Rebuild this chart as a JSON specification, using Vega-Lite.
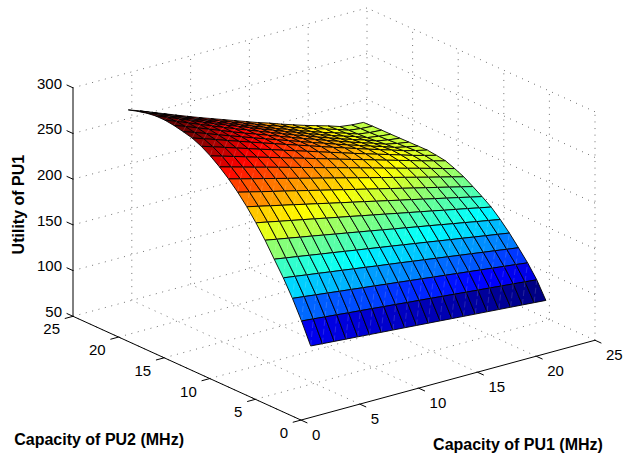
{"$schema":"https://vega.github.io/schema/vega-lite/v6.json","width":625,"height":453,"padding":0,"autosize":{"type":"fit","contains":"padding"},"background":"white","view":{"stroke":null},
"datasets":{
"segs":[
{"kind":"grid","a1":0,"a2":0,"az":50,"b1":0,"b2":25,"bz":50},{"kind":"grid","a1":5,"a2":0,"az":50,"b1":5,"b2":25,"bz":50},{"kind":"grid","a1":10,"a2":0,"az":50,"b1":10,"b2":25,"bz":50},{"kind":"grid","a1":15,"a2":0,"az":50,"b1":15,"b2":25,"bz":50},{"kind":"grid","a1":20,"a2":0,"az":50,"b1":20,"b2":25,"bz":50},{"kind":"grid","a1":25,"a2":0,"az":50,"b1":25,"b2":25,"bz":50},
{"kind":"grid","a1":0,"a2":5,"az":50,"b1":25,"b2":5,"bz":50},{"kind":"grid","a1":0,"a2":10,"az":50,"b1":25,"b2":10,"bz":50},{"kind":"grid","a1":0,"a2":15,"az":50,"b1":25,"b2":15,"bz":50},{"kind":"grid","a1":0,"a2":20,"az":50,"b1":25,"b2":20,"bz":50},{"kind":"grid","a1":0,"a2":25,"az":50,"b1":25,"b2":25,"bz":50},
{"kind":"grid","a1":5,"a2":25,"az":50,"b1":5,"b2":25,"bz":300},{"kind":"grid","a1":10,"a2":25,"az":50,"b1":10,"b2":25,"bz":300},{"kind":"grid","a1":15,"a2":25,"az":50,"b1":15,"b2":25,"bz":300},{"kind":"grid","a1":20,"a2":25,"az":50,"b1":20,"b2":25,"bz":300},{"kind":"grid","a1":25,"a2":25,"az":50,"b1":25,"b2":25,"bz":300},
{"kind":"grid","a1":25,"a2":0,"az":50,"b1":25,"b2":0,"bz":300},{"kind":"grid","a1":25,"a2":5,"az":50,"b1":25,"b2":5,"bz":300},{"kind":"grid","a1":25,"a2":10,"az":50,"b1":25,"b2":10,"bz":300},{"kind":"grid","a1":25,"a2":15,"az":50,"b1":25,"b2":15,"bz":300},{"kind":"grid","a1":25,"a2":20,"az":50,"b1":25,"b2":20,"bz":300},
{"kind":"grid","a1":0,"a2":25,"az":100,"b1":25,"b2":25,"bz":100},{"kind":"grid","a1":0,"a2":25,"az":150,"b1":25,"b2":25,"bz":150},{"kind":"grid","a1":0,"a2":25,"az":200,"b1":25,"b2":25,"bz":200},{"kind":"grid","a1":0,"a2":25,"az":250,"b1":25,"b2":25,"bz":250},{"kind":"grid","a1":0,"a2":25,"az":300,"b1":25,"b2":25,"bz":300},
{"kind":"grid","a1":25,"a2":0,"az":100,"b1":25,"b2":25,"bz":100},{"kind":"grid","a1":25,"a2":0,"az":150,"b1":25,"b2":25,"bz":150},{"kind":"grid","a1":25,"a2":0,"az":200,"b1":25,"b2":25,"bz":200},{"kind":"grid","a1":25,"a2":0,"az":250,"b1":25,"b2":25,"bz":250},{"kind":"grid","a1":25,"a2":0,"az":300,"b1":25,"b2":25,"bz":300},
{"kind":"axis","a1":0,"a2":0,"az":50,"b1":25,"b2":0,"bz":50},{"kind":"axis","a1":0,"a2":0,"az":50,"b1":0,"b2":25,"bz":50},{"kind":"axis","a1":0,"a2":25,"az":50,"b1":0,"b2":25,"bz":300},
{"kind":"axis","a1":0,"a2":0,"az":50,"b1":0,"b2":-0.7,"bz":50},{"kind":"axis","a1":5,"a2":0,"az":50,"b1":5,"b2":-0.7,"bz":50},{"kind":"axis","a1":10,"a2":0,"az":50,"b1":10,"b2":-0.7,"bz":50},{"kind":"axis","a1":15,"a2":0,"az":50,"b1":15,"b2":-0.7,"bz":50},{"kind":"axis","a1":20,"a2":0,"az":50,"b1":20,"b2":-0.7,"bz":50},{"kind":"axis","a1":25,"a2":0,"az":50,"b1":25,"b2":-0.7,"bz":50},
{"kind":"axis","a1":0,"a2":0,"az":50,"b1":-0.7,"b2":0,"bz":50},{"kind":"axis","a1":0,"a2":5,"az":50,"b1":-0.7,"b2":5,"bz":50},{"kind":"axis","a1":0,"a2":10,"az":50,"b1":-0.7,"b2":10,"bz":50},{"kind":"axis","a1":0,"a2":15,"az":50,"b1":-0.7,"b2":15,"bz":50},{"kind":"axis","a1":0,"a2":20,"az":50,"b1":-0.7,"b2":20,"bz":50},{"kind":"axis","a1":0,"a2":25,"az":50,"b1":-0.7,"b2":25,"bz":50},
{"kind":"axis","a1":0,"a2":25,"az":50,"b1":0,"b2":25.7,"bz":50},{"kind":"axis","a1":0,"a2":25,"az":100,"b1":0,"b2":25.7,"bz":100},{"kind":"axis","a1":0,"a2":25,"az":150,"b1":0,"b2":25.7,"bz":150},{"kind":"axis","a1":0,"a2":25,"az":200,"b1":0,"b2":25.7,"bz":200},{"kind":"axis","a1":0,"a2":25,"az":250,"b1":0,"b2":25.7,"bz":250},{"kind":"axis","a1":0,"a2":25,"az":300,"b1":0,"b2":25.7,"bz":300}
],
"labels":[
{"g":"p1","t":"0","p1":0,"p2":0,"z":50},{"g":"p1","t":"5","p1":5,"p2":0,"z":50},{"g":"p1","t":"10","p1":10,"p2":0,"z":50},{"g":"p1","t":"15","p1":15,"p2":0,"z":50},{"g":"p1","t":"20","p1":20,"p2":0,"z":50},{"g":"p1","t":"25","p1":25,"p2":0,"z":50},
{"g":"p2","t":"0","p1":0,"p2":0,"z":50},{"g":"p2","t":"5","p1":0,"p2":5,"z":50},{"g":"p2","t":"10","p1":0,"p2":10,"z":50},{"g":"p2","t":"15","p1":0,"p2":15,"z":50},{"g":"p2","t":"20","p1":0,"p2":20,"z":50},{"g":"p2","t":"25","p1":0,"p2":25,"z":50},
{"g":"z","t":"50","p1":0,"p2":25,"z":50},{"g":"z","t":"100","p1":0,"p2":25,"z":100},{"g":"z","t":"150","p1":0,"p2":25,"z":150},{"g":"z","t":"200","p1":0,"p2":25,"z":200},{"g":"z","t":"250","p1":0,"p2":25,"z":250},{"g":"z","t":"300","p1":0,"p2":25,"z":300},
{"g":"title","t":"Capacity of PU2 (MHz)","p1":-13.09,"p2":5.26,"z":50},{"g":"title","t":"Capacity of PU1 (MHz)","p1":8.64,"p2":-12.65,"z":50},
{"g":"ztitle","t":"Utility of PU1","p1":0,"p2":30.9,"z":145.4}
],
"grid":[
{"pu1":2,"pu2":22,"u":282.5},{"pu1":3,"pu2":22,"u":277.9},{"pu1":4,"pu2":22,"u":272.9},{"pu1":5,"pu2":22,"u":267.9},{"pu1":6,"pu2":22,"u":262.9},{"pu1":7,"pu2":22,"u":258},{"pu1":8,"pu2":22,"u":253.2},{"pu1":9,"pu2":22,"u":248.6},{"pu1":10,"pu2":22,"u":244},{"pu1":11,"pu2":22,"u":239.4},{"pu1":12,"pu2":22,"u":234.8},{"pu1":13,"pu2":22,"u":230.2},{"pu1":14,"pu2":22,"u":226.1},{"pu1":15,"pu2":22,"u":221.5},{"pu1":16,"pu2":22,"u":217.3},{"pu1":17,"pu2":22,"u":213.1},{"pu1":18,"pu2":22,"u":209.3},{"pu1":19,"pu2":22,"u":205.6},{"pu1":20,"pu2":22,"u":201.4},{"pu1":21,"pu2":22,"u":199.7},{"pu1":22,"pu2":22,"u":198.9},
{"pu1":2,"pu2":21,"u":285.5},{"pu1":3,"pu2":21,"u":280.8},{"pu1":4,"pu2":21,"u":275.6},{"pu1":5,"pu2":21,"u":270.4},{"pu1":6,"pu2":21,"u":265.2},{"pu1":7,"pu2":21,"u":260.2},{"pu1":8,"pu2":21,"u":255.3},{"pu1":9,"pu2":21,"u":250.6},{"pu1":10,"pu2":21,"u":245.8},{"pu1":11,"pu2":21,"u":241.1},{"pu1":12,"pu2":21,"u":236.4},{"pu1":13,"pu2":21,"u":231.6},{"pu1":14,"pu2":21,"u":227.3},{"pu1":15,"pu2":21,"u":222.6},{"pu1":16,"pu2":21,"u":218.3},{"pu1":17,"pu2":21,"u":214},{"pu1":18,"pu2":21,"u":210.1},{"pu1":19,"pu2":21,"u":206.2},{"pu1":20,"pu2":21,"u":201.9},{"pu1":21,"pu2":21,"u":200.2},{"pu1":22,"pu2":21,"u":199.3},
{"pu1":2,"pu2":20,"u":288},{"pu1":3,"pu2":20,"u":283.1},{"pu1":4,"pu2":20,"u":277.8},{"pu1":5,"pu2":20,"u":272.5},{"pu1":6,"pu2":20,"u":267.2},{"pu1":7,"pu2":20,"u":262.1},{"pu1":8,"pu2":20,"u":257},{"pu1":9,"pu2":20,"u":252.2},{"pu1":10,"pu2":20,"u":247.3},{"pu1":11,"pu2":20,"u":242.4},{"pu1":12,"pu2":20,"u":237.6},{"pu1":13,"pu2":20,"u":232.7},{"pu1":14,"pu2":20,"u":228.3},{"pu1":15,"pu2":20,"u":223.4},{"pu1":16,"pu2":20,"u":219},{"pu1":17,"pu2":20,"u":214.5},{"pu1":18,"pu2":20,"u":210.6},{"pu1":19,"pu2":20,"u":206.6},{"pu1":20,"pu2":20,"u":202.2},{"pu1":21,"pu2":20,"u":200.4},{"pu1":22,"pu2":20,"u":199.5},
{"pu1":2,"pu2":19,"u":289.5},{"pu1":3,"pu2":19,"u":284.6},{"pu1":4,"pu2":19,"u":279.3},{"pu1":5,"pu2":19,"u":274},{"pu1":6,"pu2":19,"u":268.7},{"pu1":7,"pu2":19,"u":263.5},{"pu1":8,"pu2":19,"u":258.5},{"pu1":9,"pu2":19,"u":253.6},{"pu1":10,"pu2":19,"u":248.7},{"pu1":11,"pu2":19,"u":243.7},{"pu1":12,"pu2":19,"u":238.9},{"pu1":13,"pu2":19,"u":234},{"pu1":14,"pu2":19,"u":229.5},{"pu1":15,"pu2":19,"u":224.6},{"pu1":16,"pu2":19,"u":220.1},{"pu1":17,"pu2":19,"u":215.6},{"pu1":18,"pu2":19,"u":211.5},{"pu1":19,"pu2":19,"u":207.4},{"pu1":20,"pu2":19,"u":202.9},{"pu1":21,"pu2":19,"u":200.9},{"pu1":22,"pu2":19,"u":199.6},
{"pu1":2,"pu2":18,"u":289.5},{"pu1":3,"pu2":18,"u":284.6},{"pu1":4,"pu2":18,"u":279.4},{"pu1":5,"pu2":18,"u":274.2},{"pu1":6,"pu2":18,"u":269.1},{"pu1":7,"pu2":18,"u":264},{"pu1":8,"pu2":18,"u":259},{"pu1":9,"pu2":18,"u":254.2},{"pu1":10,"pu2":18,"u":249.3},{"pu1":11,"pu2":18,"u":244.4},{"pu1":12,"pu2":18,"u":239.7},{"pu1":13,"pu2":18,"u":234.8},{"pu1":14,"pu2":18,"u":230.3},{"pu1":15,"pu2":18,"u":225.5},{"pu1":16,"pu2":18,"u":221},{"pu1":17,"pu2":18,"u":216.5},{"pu1":18,"pu2":18,"u":212.3},{"pu1":19,"pu2":18,"u":208.3},{"pu1":20,"pu2":18,"u":203.8},{"pu1":21,"pu2":18,"u":201.4},{"pu1":22,"pu2":18,"u":199.8},
{"pu1":2,"pu2":17,"u":288.2},{"pu1":3,"pu2":17,"u":283.5},{"pu1":4,"pu2":17,"u":278.5},{"pu1":5,"pu2":17,"u":273.6},{"pu1":6,"pu2":17,"u":268.6},{"pu1":7,"pu2":17,"u":263.6},{"pu1":8,"pu2":17,"u":258.8},{"pu1":9,"pu2":17,"u":254.2},{"pu1":10,"pu2":17,"u":249.5},{"pu1":11,"pu2":17,"u":244.8},{"pu1":12,"pu2":17,"u":240.1},{"pu1":13,"pu2":17,"u":235.4},{"pu1":14,"pu2":17,"u":231},{"pu1":15,"pu2":17,"u":226.3},{"pu1":16,"pu2":17,"u":221.9},{"pu1":17,"pu2":17,"u":217.5},{"pu1":18,"pu2":17,"u":213.3},{"pu1":19,"pu2":17,"u":209.2},{"pu1":20,"pu2":17,"u":204.8},{"pu1":21,"pu2":17,"u":202.1},{"pu1":22,"pu2":17,"u":200},
{"pu1":2,"pu2":16,"u":286},{"pu1":3,"pu2":16,"u":281.5},{"pu1":4,"pu2":16,"u":276.8},{"pu1":5,"pu2":16,"u":272},{"pu1":6,"pu2":16,"u":267.3},{"pu1":7,"pu2":16,"u":262.8},{"pu1":8,"pu2":16,"u":258.1},{"pu1":9,"pu2":16,"u":253.6},{"pu1":10,"pu2":16,"u":249.1},{"pu1":11,"pu2":16,"u":244.6},{"pu1":12,"pu2":16,"u":240.1},{"pu1":13,"pu2":16,"u":235.6},{"pu1":14,"pu2":16,"u":231.3},{"pu1":15,"pu2":16,"u":226.8},{"pu1":16,"pu2":16,"u":222.5},{"pu1":17,"pu2":16,"u":218.3},{"pu1":18,"pu2":16,"u":214.2},{"pu1":19,"pu2":16,"u":210.1},{"pu1":20,"pu2":16,"u":205.8},{"pu1":21,"pu2":16,"u":202.8},{"pu1":22,"pu2":16,"u":200.2},
{"pu1":2,"pu2":15,"u":283.5},{"pu1":3,"pu2":15,"u":279.2},{"pu1":4,"pu2":15,"u":274.8},{"pu1":5,"pu2":15,"u":270.3},{"pu1":6,"pu2":15,"u":265.9},{"pu1":7,"pu2":15,"u":261.5},{"pu1":8,"pu2":15,"u":257.1},{"pu1":9,"pu2":15,"u":252.8},{"pu1":10,"pu2":15,"u":248.5},{"pu1":11,"pu2":15,"u":244.2},{"pu1":12,"pu2":15,"u":240},{"pu1":13,"pu2":15,"u":235.6},{"pu1":14,"pu2":15,"u":231.4},{"pu1":15,"pu2":15,"u":227.2},{"pu1":16,"pu2":15,"u":223},{"pu1":17,"pu2":15,"u":218.9},{"pu1":18,"pu2":15,"u":214.8},{"pu1":19,"pu2":15,"u":210.9},{"pu1":20,"pu2":15,"u":206.7},{"pu1":21,"pu2":15,"u":203.4},{"pu1":22,"pu2":15,"u":200.4},
{"pu1":2,"pu2":14,"u":279},{"pu1":3,"pu2":14,"u":274.9},{"pu1":4,"pu2":14,"u":270.8},{"pu1":5,"pu2":14,"u":266.6},{"pu1":6,"pu2":14,"u":262.5},{"pu1":7,"pu2":14,"u":258.3},{"pu1":8,"pu2":14,"u":254.3},{"pu1":9,"pu2":14,"u":250.2},{"pu1":10,"pu2":14,"u":246.1},{"pu1":11,"pu2":14,"u":242.1},{"pu1":12,"pu2":14,"u":238},{"pu1":13,"pu2":14,"u":233.9},{"pu1":14,"pu2":14,"u":229.9},{"pu1":15,"pu2":14,"u":225.8},{"pu1":16,"pu2":14,"u":221.8},{"pu1":17,"pu2":14,"u":217.9},{"pu1":18,"pu2":14,"u":214},{"pu1":19,"pu2":14,"u":210.1},{"pu1":20,"pu2":14,"u":206.1},{"pu1":21,"pu2":14,"u":202.6},{"pu1":22,"pu2":14,"u":199.2},
{"pu1":2,"pu2":13,"u":273},{"pu1":3,"pu2":13,"u":269.2},{"pu1":4,"pu2":13,"u":265.4},{"pu1":5,"pu2":13,"u":261.5},{"pu1":6,"pu2":13,"u":257.6},{"pu1":7,"pu2":13,"u":253.9},{"pu1":8,"pu2":13,"u":250},{"pu1":9,"pu2":13,"u":246.2},{"pu1":10,"pu2":13,"u":242.5},{"pu1":11,"pu2":13,"u":238.6},{"pu1":12,"pu2":13,"u":234.9},{"pu1":13,"pu2":13,"u":231},{"pu1":14,"pu2":13,"u":227.2},{"pu1":15,"pu2":13,"u":223.5},{"pu1":16,"pu2":13,"u":219.7},{"pu1":17,"pu2":13,"u":215.9},{"pu1":18,"pu2":13,"u":212.2},{"pu1":19,"pu2":13,"u":208.5},{"pu1":20,"pu2":13,"u":204.7},{"pu1":21,"pu2":13,"u":201.2},{"pu1":22,"pu2":13,"u":197.7},
{"pu1":2,"pu2":12,"u":265.5},{"pu1":3,"pu2":12,"u":261.9},{"pu1":4,"pu2":12,"u":258.3},{"pu1":5,"pu2":12,"u":254.7},{"pu1":6,"pu2":12,"u":251.2},{"pu1":7,"pu2":12,"u":247.6},{"pu1":8,"pu2":12,"u":244},{"pu1":9,"pu2":12,"u":240.4},{"pu1":10,"pu2":12,"u":236.8},{"pu1":11,"pu2":12,"u":233.2},{"pu1":12,"pu2":12,"u":229.7},{"pu1":13,"pu2":12,"u":226.1},{"pu1":14,"pu2":12,"u":222.5},{"pu1":15,"pu2":12,"u":218.9},{"pu1":16,"pu2":12,"u":215.3},{"pu1":17,"pu2":12,"u":211.7},{"pu1":18,"pu2":12,"u":208.1},{"pu1":19,"pu2":12,"u":204.6},{"pu1":20,"pu2":12,"u":201},{"pu1":21,"pu2":12,"u":197.4},{"pu1":22,"pu2":12,"u":193.8},
{"pu1":2,"pu2":11,"u":256.9},{"pu1":3,"pu2":11,"u":253.5},{"pu1":4,"pu2":11,"u":250.1},{"pu1":5,"pu2":11,"u":246.8},{"pu1":6,"pu2":11,"u":243.4},{"pu1":7,"pu2":11,"u":240},{"pu1":8,"pu2":11,"u":236.6},{"pu1":9,"pu2":11,"u":233.2},{"pu1":10,"pu2":11,"u":229.9},{"pu1":11,"pu2":11,"u":226.5},{"pu1":12,"pu2":11,"u":223.1},{"pu1":13,"pu2":11,"u":219.7},{"pu1":14,"pu2":11,"u":216.3},{"pu1":15,"pu2":11,"u":213},{"pu1":16,"pu2":11,"u":209.6},{"pu1":17,"pu2":11,"u":206.2},{"pu1":18,"pu2":11,"u":202.8},{"pu1":19,"pu2":11,"u":199.4},{"pu1":20,"pu2":11,"u":196.1},{"pu1":21,"pu2":11,"u":192.7},{"pu1":22,"pu2":11,"u":189.3},
{"pu1":2,"pu2":10,"u":246.9},{"pu1":3,"pu2":10,"u":243.7},{"pu1":4,"pu2":10,"u":240.5},{"pu1":5,"pu2":10,"u":237.3},{"pu1":6,"pu2":10,"u":234.2},{"pu1":7,"pu2":10,"u":231},{"pu1":8,"pu2":10,"u":227.8},{"pu1":9,"pu2":10,"u":224.6},{"pu1":10,"pu2":10,"u":221.4},{"pu1":11,"pu2":10,"u":218.2},{"pu1":12,"pu2":10,"u":215},{"pu1":13,"pu2":10,"u":211.9},{"pu1":14,"pu2":10,"u":208.7},{"pu1":15,"pu2":10,"u":205.5},{"pu1":16,"pu2":10,"u":202.3},{"pu1":17,"pu2":10,"u":199.1},{"pu1":18,"pu2":10,"u":195.9},{"pu1":19,"pu2":10,"u":192.8},{"pu1":20,"pu2":10,"u":189.6},{"pu1":21,"pu2":10,"u":186.4},{"pu1":22,"pu2":10,"u":183.2},
{"pu1":2,"pu2":9,"u":235.5},{"pu1":3,"pu2":9,"u":232.6},{"pu1":4,"pu2":9,"u":229.6},{"pu1":5,"pu2":9,"u":226.7},{"pu1":6,"pu2":9,"u":223.8},{"pu1":7,"pu2":9,"u":220.8},{"pu1":8,"pu2":9,"u":217.9},{"pu1":9,"pu2":9,"u":214.9},{"pu1":10,"pu2":9,"u":212},{"pu1":11,"pu2":9,"u":209.1},{"pu1":12,"pu2":9,"u":206.2},{"pu1":13,"pu2":9,"u":203.2},{"pu1":14,"pu2":9,"u":200.3},{"pu1":15,"pu2":9,"u":197.3},{"pu1":16,"pu2":9,"u":194.4},{"pu1":17,"pu2":9,"u":191.5},{"pu1":18,"pu2":9,"u":188.5},{"pu1":19,"pu2":9,"u":185.6},{"pu1":20,"pu2":9,"u":182.7},{"pu1":21,"pu2":9,"u":179.7},{"pu1":22,"pu2":9,"u":176.8},
{"pu1":2,"pu2":8,"u":222.5},{"pu1":3,"pu2":8,"u":219.9},{"pu1":4,"pu2":8,"u":217.2},{"pu1":5,"pu2":8,"u":214.6},{"pu1":6,"pu2":8,"u":212},{"pu1":7,"pu2":8,"u":209.4},{"pu1":8,"pu2":8,"u":206.7},{"pu1":9,"pu2":8,"u":204.1},{"pu1":10,"pu2":8,"u":201.5},{"pu1":11,"pu2":8,"u":198.8},{"pu1":12,"pu2":8,"u":196.2},{"pu1":13,"pu2":8,"u":193.6},{"pu1":14,"pu2":8,"u":190.9},{"pu1":15,"pu2":8,"u":188.3},{"pu1":16,"pu2":8,"u":185.7},{"pu1":17,"pu2":8,"u":183.1},{"pu1":18,"pu2":8,"u":180.4},{"pu1":19,"pu2":8,"u":177.8},{"pu1":20,"pu2":8,"u":175.2},{"pu1":21,"pu2":8,"u":172.5},{"pu1":22,"pu2":8,"u":169.9},
{"pu1":2,"pu2":7,"u":208},{"pu1":3,"pu2":7,"u":205.6},{"pu1":4,"pu2":7,"u":203.3},{"pu1":5,"pu2":7,"u":200.9},{"pu1":6,"pu2":7,"u":198.6},{"pu1":7,"pu2":7,"u":196.2},{"pu1":8,"pu2":7,"u":193.8},{"pu1":9,"pu2":7,"u":191.5},{"pu1":10,"pu2":7,"u":189.1},{"pu1":11,"pu2":7,"u":186.8},{"pu1":12,"pu2":7,"u":184.4},{"pu1":13,"pu2":7,"u":182},{"pu1":14,"pu2":7,"u":179.7},{"pu1":15,"pu2":7,"u":177.3},{"pu1":16,"pu2":7,"u":175},{"pu1":17,"pu2":7,"u":172.6},{"pu1":18,"pu2":7,"u":170.2},{"pu1":19,"pu2":7,"u":167.9},{"pu1":20,"pu2":7,"u":165.5},{"pu1":21,"pu2":7,"u":163.2},{"pu1":22,"pu2":7,"u":160.8},
{"pu1":2,"pu2":6,"u":191.8},{"pu1":3,"pu2":6,"u":189.7},{"pu1":4,"pu2":6,"u":187.7},{"pu1":5,"pu2":6,"u":185.6},{"pu1":6,"pu2":6,"u":183.5},{"pu1":7,"pu2":6,"u":181.5},{"pu1":8,"pu2":6,"u":179.4},{"pu1":9,"pu2":6,"u":177.3},{"pu1":10,"pu2":6,"u":175.3},{"pu1":11,"pu2":6,"u":173.2},{"pu1":12,"pu2":6,"u":171.2},{"pu1":13,"pu2":6,"u":169.1},{"pu1":14,"pu2":6,"u":167},{"pu1":15,"pu2":6,"u":165},{"pu1":16,"pu2":6,"u":162.9},{"pu1":17,"pu2":6,"u":160.8},{"pu1":18,"pu2":6,"u":158.8},{"pu1":19,"pu2":6,"u":156.7},{"pu1":20,"pu2":6,"u":154.6},{"pu1":21,"pu2":6,"u":152.6},{"pu1":22,"pu2":6,"u":150.5},
{"pu1":2,"pu2":5,"u":175.9},{"pu1":3,"pu2":5,"u":174.1},{"pu1":4,"pu2":5,"u":172.2},{"pu1":5,"pu2":5,"u":170.4},{"pu1":6,"pu2":5,"u":168.5},{"pu1":7,"pu2":5,"u":166.7},{"pu1":8,"pu2":5,"u":164.8},{"pu1":9,"pu2":5,"u":163},{"pu1":10,"pu2":5,"u":161.1},{"pu1":11,"pu2":5,"u":159.3},{"pu1":12,"pu2":5,"u":157.5},{"pu1":13,"pu2":5,"u":155.6},{"pu1":14,"pu2":5,"u":153.8},{"pu1":15,"pu2":5,"u":151.9},{"pu1":16,"pu2":5,"u":150.1},{"pu1":17,"pu2":5,"u":148.2},{"pu1":18,"pu2":5,"u":146.4},{"pu1":19,"pu2":5,"u":144.5},{"pu1":20,"pu2":5,"u":142.7},{"pu1":21,"pu2":5,"u":140.8},{"pu1":22,"pu2":5,"u":139},
{"pu1":2,"pu2":4,"u":158},{"pu1":3,"pu2":4,"u":156.5},{"pu1":4,"pu2":4,"u":154.9},{"pu1":5,"pu2":4,"u":153.4},{"pu1":6,"pu2":4,"u":151.8},{"pu1":7,"pu2":4,"u":150.3},{"pu1":8,"pu2":4,"u":148.7},{"pu1":9,"pu2":4,"u":147.2},{"pu1":10,"pu2":4,"u":145.6},{"pu1":11,"pu2":4,"u":144.1},{"pu1":12,"pu2":4,"u":142.5},{"pu1":13,"pu2":4,"u":141},{"pu1":14,"pu2":4,"u":139.4},{"pu1":15,"pu2":4,"u":137.9},{"pu1":16,"pu2":4,"u":136.3},{"pu1":17,"pu2":4,"u":134.8},{"pu1":18,"pu2":4,"u":133.2},{"pu1":19,"pu2":4,"u":131.7},{"pu1":20,"pu2":4,"u":130.1},{"pu1":21,"pu2":4,"u":128.6},{"pu1":22,"pu2":4,"u":127},
{"pu1":2,"pu2":3,"u":137.8},{"pu1":3,"pu2":3,"u":136.6},{"pu1":4,"pu2":3,"u":135.3},{"pu1":5,"pu2":3,"u":134.1},{"pu1":6,"pu2":3,"u":132.8},{"pu1":7,"pu2":3,"u":131.6},{"pu1":8,"pu2":3,"u":130.4},{"pu1":9,"pu2":3,"u":129.1},{"pu1":10,"pu2":3,"u":127.9},{"pu1":11,"pu2":3,"u":126.6},{"pu1":12,"pu2":3,"u":125.4},{"pu1":13,"pu2":3,"u":124.2},{"pu1":14,"pu2":3,"u":122.9},{"pu1":15,"pu2":3,"u":121.7},{"pu1":16,"pu2":3,"u":120.4},{"pu1":17,"pu2":3,"u":119.2},{"pu1":18,"pu2":3,"u":118},{"pu1":19,"pu2":3,"u":116.7},{"pu1":20,"pu2":3,"u":115.5},{"pu1":21,"pu2":3,"u":114.2},{"pu1":22,"pu2":3,"u":113},
{"pu1":2,"pu2":2,"u":115},{"pu1":3,"pu2":2,"u":114},{"pu1":4,"pu2":2,"u":113},{"pu1":5,"pu2":2,"u":112},{"pu1":6,"pu2":2,"u":111},{"pu1":7,"pu2":2,"u":110},{"pu1":8,"pu2":2,"u":109},{"pu1":9,"pu2":2,"u":108},{"pu1":10,"pu2":2,"u":107},{"pu1":11,"pu2":2,"u":106},{"pu1":12,"pu2":2,"u":105},{"pu1":13,"pu2":2,"u":104},{"pu1":14,"pu2":2,"u":103},{"pu1":15,"pu2":2,"u":102},{"pu1":16,"pu2":2,"u":101},{"pu1":17,"pu2":2,"u":100},{"pu1":18,"pu2":2,"u":99},{"pu1":19,"pu2":2,"u":98},{"pu1":20,"pu2":2,"u":97},{"pu1":21,"pu2":2,"u":96},{"pu1":22,"pu2":2,"u":95}
]},
"layer":[
{"data":{"name":"segs"},"transform":[{"filter":"datum.kind=='grid'"},
{"calculate":"301+11.76*datum.a1-9.12*datum.a2","as":"x1"},{"calculate":"421-3.2*datum.a1-4.16*datum.a2-0.916*(datum.az-50)","as":"y1"},{"calculate":"301+11.76*datum.b1-9.12*datum.b2","as":"x2"},{"calculate":"421-3.2*datum.b1-4.16*datum.b2-0.916*(datum.bz-50)","as":"y2"}],
"mark":{"type":"rule","stroke":"#333","strokeWidth":0.7,"strokeDash":[1,5.6]},
"encoding":{"x":{"field":"x1","type":"quantitative","scale":{"domain":[0,625],"nice":false,"zero":false},"axis":null},"y":{"field":"y1","type":"quantitative","scale":{"domain":[453,0],"nice":false,"zero":false},"axis":null},"x2":{"field":"x2"},"y2":{"field":"y2"}}},
{"data":{"name":"segs"},"transform":[{"filter":"datum.kind=='axis'"},
{"calculate":"301+11.76*datum.a1-9.12*datum.a2","as":"x1"},{"calculate":"421-3.2*datum.a1-4.16*datum.a2-0.916*(datum.az-50)","as":"y1"},{"calculate":"301+11.76*datum.b1-9.12*datum.b2","as":"x2"},{"calculate":"421-3.2*datum.b1-4.16*datum.b2-0.916*(datum.bz-50)","as":"y2"}],
"mark":{"type":"rule","stroke":"#000","strokeWidth":1},
"encoding":{"x":{"field":"x1","type":"quantitative","scale":{"domain":[0,625],"nice":false,"zero":false},"axis":null},"y":{"field":"y1","type":"quantitative","scale":{"domain":[453,0],"nice":false,"zero":false},"axis":null},"x2":{"field":"x2"},"y2":{"field":"y2"}}},
{"data":{"name":"grid"},"transform":[{"calculate":"[[0,0,0],[1,0,1],[1,1,2],[0,1,3],[0,0,4]]","as":"o"},{"flatten":["o"]},
{"calculate":"datum.pu1-datum.o[0]","as":"c1"},{"calculate":"datum.pu2-datum.o[1]","as":"c2"},{"calculate":"datum.o[2]","as":"k"},
{"filter":"datum.c1>=2 && datum.c1<=21 && datum.c2>=2 && datum.c2<=21"},
{"calculate":"datum.c1*100+datum.c2","as":"cell"},{"calculate":"datum.k==0?datum.u:null","as":"base"},
{"joinaggregate":[{"op":"max","field":"base","as":"cval"}],"groupby":["cell"]},
{"calculate":"305.4+11.76*datum.pu1-9.12*datum.pu2","as":"sx"},{"calculate":"421-3.2*datum.pu1-4.16*datum.pu2-0.916*(datum.u-50)","as":"sy"}],
"mark":{"type":"line","stroke":"#000","strokeWidth":0.9,"strokeJoin":"miter","clip":false},
"encoding":{"x":{"field":"sx","type":"quantitative","scale":{"domain":[0,625],"nice":false,"zero":false},"axis":null},"y":{"field":"sy","type":"quantitative","scale":{"domain":[453,0],"nice":false,"zero":false},"axis":null},"detail":{"field":"cell","type":"nominal"},"order":{"field":"k","type":"quantitative"},
"fill":{"field":"cval","type":"quantitative","legend":null,"scale":{"domain":[95,118.4,165.3,212.2,259.1,282.5],"range":["#000080","#0000ff","#00ffff","#ffff00","#ff0000","#800000"],"interpolate":"rgb"}}}},
{"data":{"name":"grid"},"transform":[{"calculate":"[[0,0,0],[1,1,2]]","as":"o"},{"flatten":["o"]},
{"calculate":"datum.pu1-datum.o[0]","as":"c1"},{"calculate":"datum.pu2-datum.o[1]","as":"c2"},{"calculate":"datum.o[2]","as":"k"},
{"filter":"datum.c1>=2 && datum.c1<=21 && datum.c2>=2 && datum.c2<=21"},
{"calculate":"datum.c1*100+datum.c2","as":"cell"},
{"calculate":"305.4+11.76*datum.pu1-9.12*datum.pu2","as":"sx"},{"calculate":"421-3.2*datum.pu1-4.16*datum.pu2-0.916*(datum.u-50)","as":"sy"}],
"mark":{"type":"line","stroke":"#fff","strokeWidth":0.5,"strokeOpacity":0.3,"strokeDash":[6,3],"clip":false},
"encoding":{"x":{"field":"sx","type":"quantitative","scale":{"domain":[0,625],"nice":false,"zero":false},"axis":null},"y":{"field":"sy","type":"quantitative","scale":{"domain":[453,0],"nice":false,"zero":false},"axis":null},"detail":{"field":"cell","type":"nominal"},"order":{"field":"k","type":"quantitative"}}},
{"data":{"name":"labels"},"transform":[{"filter":"datum.g=='p1'"},{"calculate":"301+11.76*datum.p1-9.12*datum.p2","as":"sx"},{"calculate":"421-3.2*datum.p1-4.16*datum.p2-0.916*(datum.z-50)","as":"sy"}],
"mark":{"type":"text","font":"Liberation Sans","fontSize":15,"align":"left","baseline":"middle","dx":11,"dy":14.5,"fill":"#000"},
"encoding":{"x":{"field":"sx","type":"quantitative","scale":{"domain":[0,625],"nice":false,"zero":false},"axis":null},"y":{"field":"sy","type":"quantitative","scale":{"domain":[453,0],"nice":false,"zero":false},"axis":null},"text":{"field":"t"}}},
{"data":{"name":"labels"},"transform":[{"filter":"datum.g=='p2'"},{"calculate":"301+11.76*datum.p1-9.12*datum.p2","as":"sx"},{"calculate":"421-3.2*datum.p1-4.16*datum.p2-0.916*(datum.z-50)","as":"sy"}],
"mark":{"type":"text","font":"Liberation Sans","fontSize":15,"align":"right","baseline":"middle","dx":-13,"dy":13,"fill":"#000"},
"encoding":{"x":{"field":"sx","type":"quantitative","scale":{"domain":[0,625],"nice":false,"zero":false},"axis":null},"y":{"field":"sy","type":"quantitative","scale":{"domain":[453,0],"nice":false,"zero":false},"axis":null},"text":{"field":"t"}}},
{"data":{"name":"labels"},"transform":[{"filter":"datum.g=='z'"},{"calculate":"301+11.76*datum.p1-9.12*datum.p2","as":"sx"},{"calculate":"421-3.2*datum.p1-4.16*datum.p2-0.916*(datum.z-50)","as":"sy"}],
"mark":{"type":"text","font":"Liberation Sans","fontSize":15,"align":"right","baseline":"middle","dx":-11,"dy":-4.3,"fill":"#000"},
"encoding":{"x":{"field":"sx","type":"quantitative","scale":{"domain":[0,625],"nice":false,"zero":false},"axis":null},"y":{"field":"sy","type":"quantitative","scale":{"domain":[453,0],"nice":false,"zero":false},"axis":null},"text":{"field":"t"}}},
{"data":{"name":"labels"},"transform":[{"filter":"datum.g=='title'"},{"calculate":"301+11.76*datum.p1-9.12*datum.p2","as":"sx"},{"calculate":"421-3.2*datum.p1-4.16*datum.p2-0.916*(datum.z-50)","as":"sy"}],
"mark":{"type":"text","font":"Liberation Sans","fontSize":16,"fontWeight":"bold","align":"center","baseline":"middle","fill":"#000"},
"encoding":{"x":{"field":"sx","type":"quantitative","scale":{"domain":[0,625],"nice":false,"zero":false},"axis":null},"y":{"field":"sy","type":"quantitative","scale":{"domain":[453,0],"nice":false,"zero":false},"axis":null},"text":{"field":"t"}}},
{"data":{"name":"labels"},"transform":[{"filter":"datum.g=='ztitle'"},{"calculate":"301+11.76*datum.p1-9.12*datum.p2","as":"sx"},{"calculate":"421-3.2*datum.p1-4.16*datum.p2-0.916*(datum.z-50)","as":"sy"}],
"mark":{"type":"text","font":"Liberation Sans","fontSize":16,"fontWeight":"bold","align":"center","baseline":"middle","angle":270,"fill":"#000"},
"encoding":{"x":{"field":"sx","type":"quantitative","scale":{"domain":[0,625],"nice":false,"zero":false},"axis":null},"y":{"field":"sy","type":"quantitative","scale":{"domain":[453,0],"nice":false,"zero":false},"axis":null},"text":{"field":"t"}}}
]}
